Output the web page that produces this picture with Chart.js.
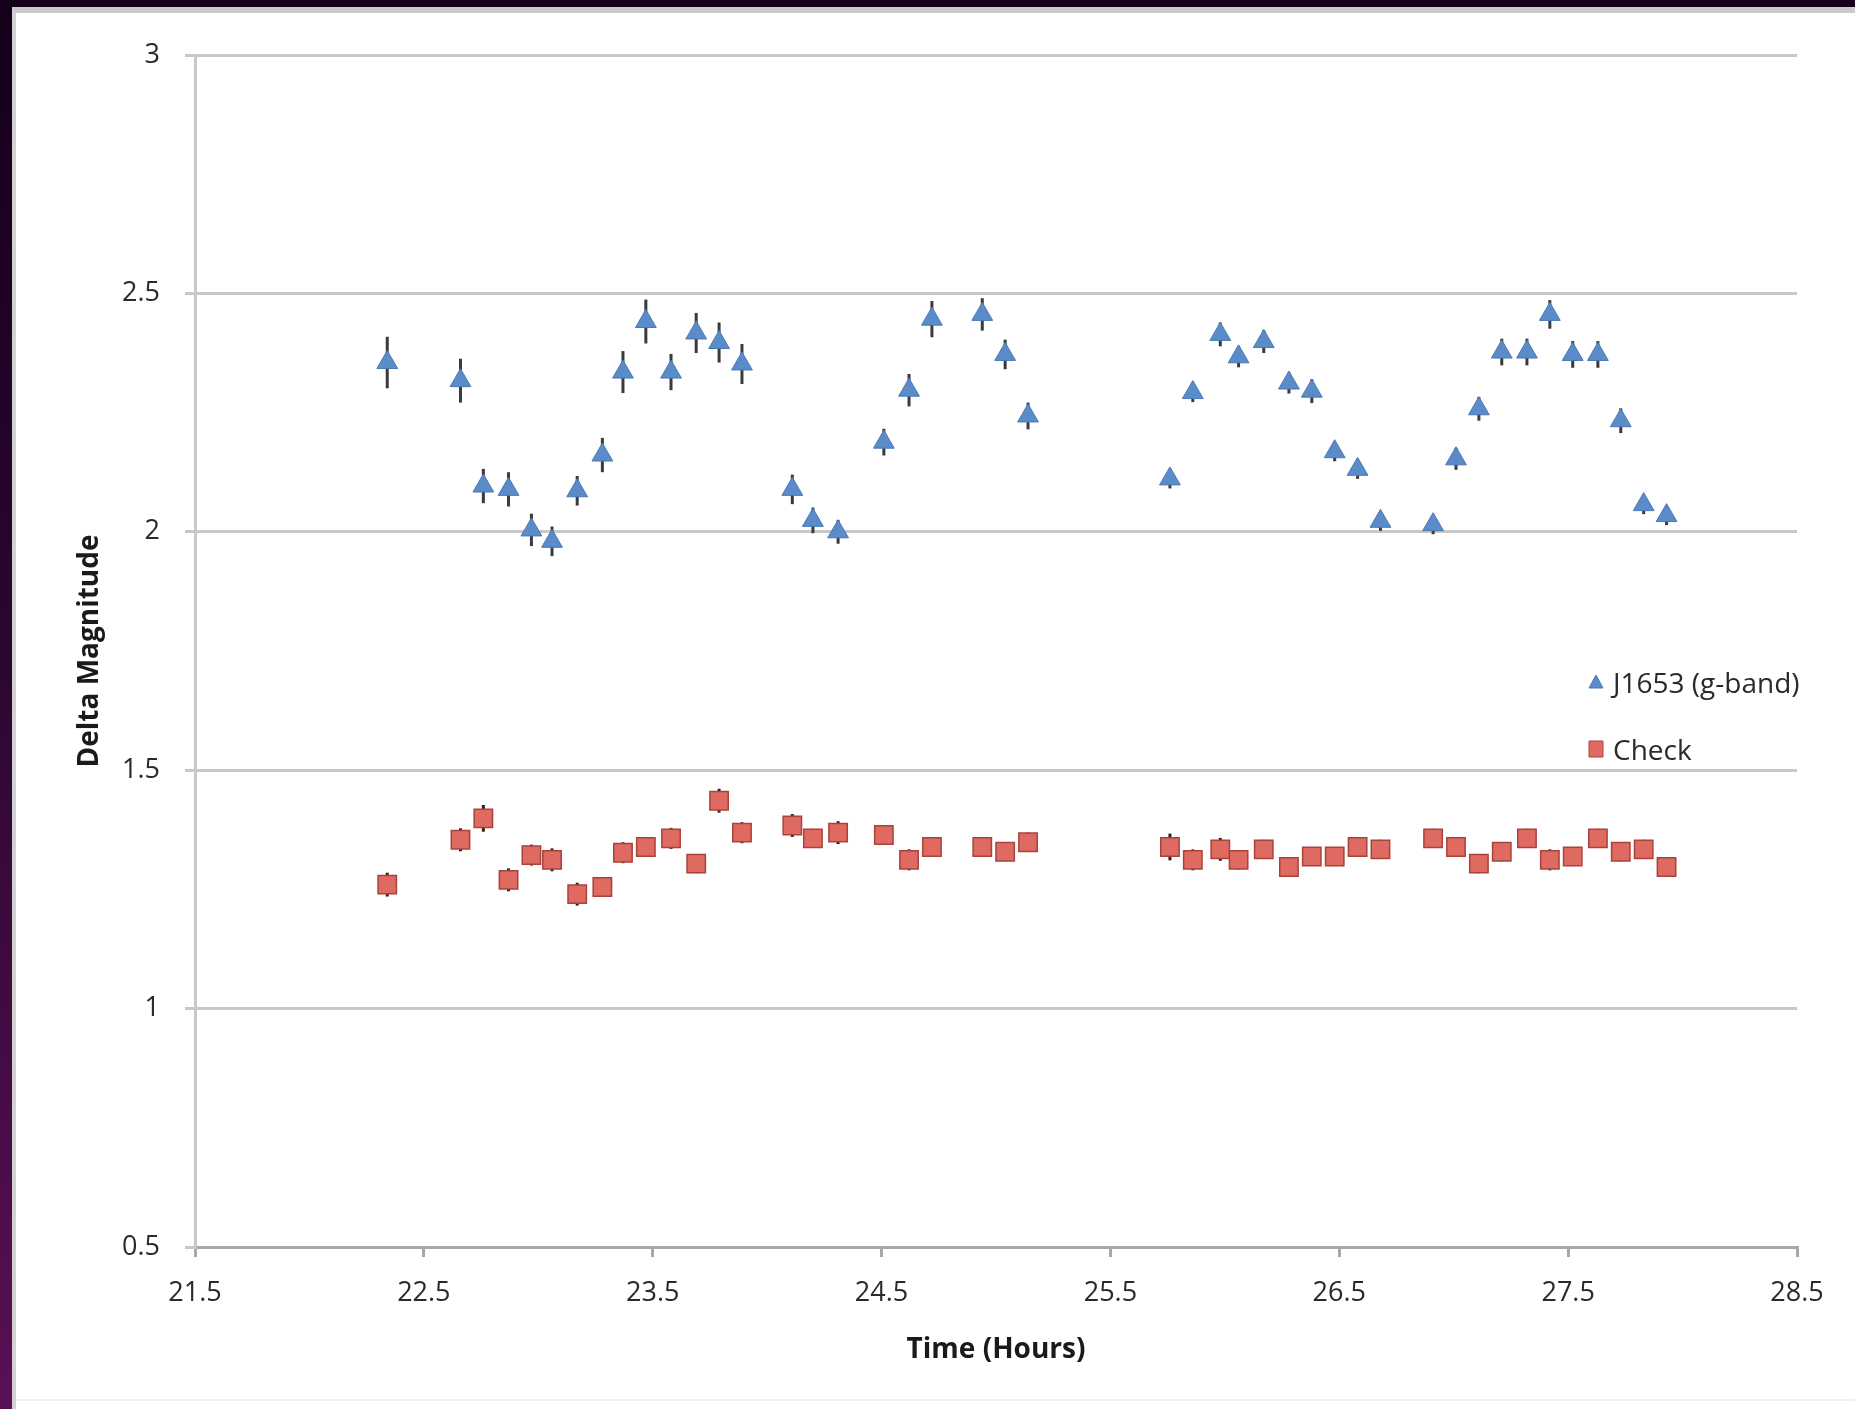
<!DOCTYPE html>
<html><head><meta charset="utf-8">
<script src="https://cdn.jsdelivr.net/npm/chart.js@4.4.1/dist/chart.umd.min.js"></script>
<style>
html,body{margin:0;padding:0;width:1855px;height:1409px;overflow:hidden;background:linear-gradient(180deg,#15001a 0%,#2a0630 45%,#5a1055 100%);}
#panel{position:absolute;left:12px;top:7px;width:1843px;height:1402px;background:#fff;border-top:6px solid #cbcbcb;border-left:4px solid #d2d2d2;box-sizing:border-box;}
#foot{position:absolute;left:16px;top:1399px;width:1839px;height:2px;background:#efefef;}
canvas{position:absolute;left:0;top:0;}
</style></head><body>
<div id="panel"></div>
<div id="foot"></div>
<canvas id="c" width="1855" height="1409"></canvas>
<script>
const timeHours = [22.34,22.66,22.76,22.87,22.97,23.06,23.17,23.28,23.37,23.47,23.58,23.69,23.79,23.89,24.11,24.20,24.31,24.51,24.62,24.72,24.94,25.04,25.14,25.76,25.86,25.98,26.06,26.17,26.28,26.38,26.48,26.58,26.68,26.91,27.01,27.11,27.21,27.32,27.42,27.52,27.63,27.73,27.83,27.93];
const j1653Mag = [2.355,2.317,2.096,2.089,2.004,1.980,2.086,2.161,2.335,2.441,2.335,2.417,2.397,2.352,2.089,2.024,2.000,2.188,2.297,2.446,2.456,2.372,2.243,2.111,2.292,2.414,2.367,2.399,2.312,2.295,2.168,2.131,2.022,2.015,2.153,2.258,2.377,2.377,2.456,2.372,2.372,2.233,2.057,2.034];
const j1653Err = [0.054,0.046,0.036,0.036,0.034,0.031,0.031,0.036,0.044,0.046,0.038,0.042,0.042,0.042,0.031,0.027,0.025,0.028,0.034,0.038,0.034,0.031,0.028,0.020,0.020,0.025,0.022,0.024,0.022,0.025,0.020,0.020,0.020,0.020,0.023,0.025,0.028,0.028,0.030,0.028,0.028,0.026,0.020,0.020];
const checkMag = [1.260,1.354,1.399,1.270,1.322,1.312,1.240,1.255,1.327,1.339,1.357,1.304,1.436,1.369,1.384,1.357,1.369,1.364,1.312,1.339,1.339,1.329,1.349,1.339,1.312,1.334,1.312,1.334,1.297,1.319,1.319,1.339,1.334,1.357,1.339,1.304,1.329,1.357,1.312,1.319,1.357,1.329,1.334,1.297];
const checkErr = [0.025,0.024,0.028,0.024,0.022,0.024,0.024,0.020,0.022,0.020,0.022,0.020,0.025,0.022,0.024,0.020,0.024,0.020,0.022,0.020,0.020,0.020,0.020,0.028,0.022,0.024,0.020,0.020,0.020,0.020,0.020,0.020,0.020,0.020,0.020,0.020,0.020,0.020,0.022,0.020,0.020,0.020,0.020,0.020];
const xTickValues = [21.5,22.5,23.5,24.5,25.5,26.5,27.5,28.5];
const yTickValues = [0.5,1,1.5,2,2.5,3];
const seriesNames = ['J1653 (g-band)','Check'];
const axisTitles = {x:'Time (Hours)', y:'Delta Magnitude'};

const FONT = '"Open Sans", "Liberation Sans", sans-serif';
const BLUE = '#5a8cca', BLUE_B = '#4a78b2';
const RED = '#df6a62', RED_B = '#a8433c';

const errorBars = {
  id:'errorBars',
  beforeDatasetsDraw(chart){
    const {ctx, scales:{x,y}} = chart;
    ctx.save();
    chart.data.datasets.forEach(ds=>{
      if(!ds.errors) return;
      ctx.strokeStyle = ds.errorColor; ctx.lineWidth = 3;
      ds.data.forEach((p,i)=>{
        const e = ds.errors[i];
        const px = x.getPixelForValue(p.x);
        ctx.beginPath();
        ctx.moveTo(px, y.getPixelForValue(p.y+e));
        ctx.lineTo(px, y.getPixelForValue(p.y-e));
        ctx.stroke();
      });
    });
    ctx.restore();
  }
};

const customLegend = {
  id:'customLegend',
  afterDraw(chart){
    const {ctx, chartArea} = chart;
    const lx = chartArea.right - 201;
    const rows = [chartArea.top + 628, chartArea.top + 695];
    ctx.save();
    ctx.font = '28px ' + FONT;
    ctx.textBaseline = 'middle';
    chart.data.datasets.forEach((ds,i)=>{
      const cy = rows[i];
      ctx.fillStyle = ds.backgroundColor; ctx.strokeStyle = ds.borderColor; ctx.lineWidth = 1;
      ctx.beginPath();
      if(ds.pointStyle==='triangle'){
        ctx.moveTo(lx, cy-8); ctx.lineTo(lx+7, cy+5); ctx.lineTo(lx-7, cy+5); ctx.closePath();
      } else {
        ctx.rect(lx-7, cy-9, 14, 16);
      }
      ctx.fill(); ctx.stroke();
      ctx.fillStyle = '#2a2a2a';
      ctx.fillText(ds.label, lx+17, cy+2);
    });
    ctx.restore();
  }
};

const mk = (mags)=>timeHours.map((t,i)=>({x:t,y:mags[i]}));

new Chart(document.getElementById('c'), {
  type:'scatter',
  data:{datasets:[
    {label:seriesNames[0], data:mk(j1653Mag), errors:j1653Err, errorColor:'#3a3a3a',
     pointStyle:'triangle', pointRadius:12, pointHoverRadius:12, backgroundColor:BLUE, borderColor:BLUE_B, borderWidth:1},
    {label:seriesNames[1], data:mk(checkMag), errors:checkErr, errorColor:'#3a1a18',
     pointStyle:'rect', pointRadius:13, pointHoverRadius:13, backgroundColor:RED, borderColor:RED_B, borderWidth:1.5}
  ]},
  options:{
    responsive:false, devicePixelRatio:1, animation:false,
    layout:{padding:{left:0,top:55,right:58,bottom:0}},
    plugins:{legend:{display:false}, tooltip:{enabled:false}},
    scales:{
      x:{type:'linear', min:21.5, max:28.5,
        afterBuildTicks:s=>{s.ticks = xTickValues.map(v=>({value:v}));},
        afterFit:s=>{s.height = 162;},
        grid:{drawOnChartArea:false, drawTicks:true, tickLength:10, color:'#a8a8a8', lineWidth:3},
        border:{display:true, color:'#a8a8a8', width:3},
        ticks:{font:{family:FONT,size:27}, color:'#2a2a2a', padding:20, maxRotation:0, callback:v=>String(v)},
        title:{display:true, text:axisTitles.x, font:{family:FONT,size:28,weight:'bold'}, color:'#1a1a1a', padding:{top:0,bottom:42}}
      },
      y:{type:'linear', min:0.5, max:3,
        afterBuildTicks:s=>{s.ticks = yTickValues.map(v=>({value:v}));},
        afterFit:s=>{s.width = 195;},
        grid:{color:'#c8c8c8', lineWidth:3, drawTicks:true, tickLength:10},
        border:{display:true, color:'#c8c8c8', width:3},
        ticks:{font:{family:FONT,size:27}, color:'#2a2a2a', padding:25, callback:v=>String(v)},
        title:{display:true, text:axisTitles.y, font:{family:FONT,size:28,weight:'bold'}, color:'#1a1a1a', padding:{top:73,bottom:0}}
      }
    }
  },
  plugins:[errorBars, customLegend]
});
</script>
</body></html>
